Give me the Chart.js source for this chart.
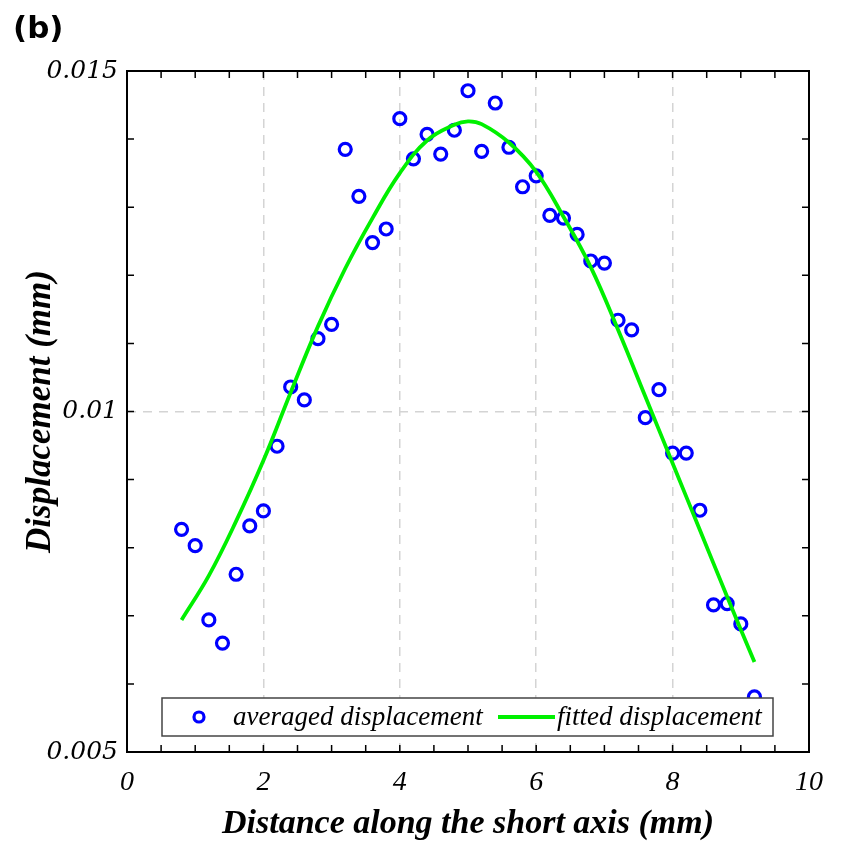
<!DOCTYPE html>
<html>
<head>
<meta charset="utf-8">
<script src="https://cdn.jsdelivr.net/npm/chart.js@4.4.1/dist/chart.umd.min.js"></script>
<style>
    html, body { margin: 0; padding: 0; background: #fff; }
</style>
</head>
<body>
<canvas id="displacementChart" width="842" height="841"></canvas>
<script>
// measured points (distance in mm, displacement in mm)
const distance = [0.8, 1.0, 1.2, 1.4, 1.6, 1.8, 2.0, 2.2, 2.4, 2.6, 2.8, 3.0, 3.2, 3.4, 3.6, 3.8,
    4.0, 4.2, 4.4, 4.6, 4.8, 5.0, 5.2, 5.4, 5.6, 5.8, 6.0, 6.2, 6.4, 6.6, 6.8, 7.0,
    7.2, 7.4, 7.6, 7.8, 8.0, 8.2, 8.4, 8.6, 8.8, 9.0, 9.2];
const averagedDisplacement = [0.00827, 0.00803, 0.00694, 0.00660, 0.00761, 0.00832, 0.00854, 0.00949,
    0.01036, 0.01017, 0.01107, 0.01128, 0.01385, 0.01316, 0.01248, 0.01268,
    0.01430, 0.01371, 0.01407, 0.01378, 0.01413, 0.01471, 0.01382, 0.01453,
    0.01388, 0.01330, 0.01346, 0.01288, 0.01284, 0.01260, 0.01221, 0.01218,
    0.01134, 0.01120, 0.00991, 0.01032, 0.00939, 0.00939, 0.00855, 0.00716,
    0.00718, 0.00688, 0.00581];

// fitted curve
const fitDistance = [0.8, 1.2, 1.6, 2.0, 2.4, 2.8, 3.2, 3.6, 4.0, 4.4, 4.8, 5.0, 5.2,
    5.6, 6.0, 6.4, 6.8, 7.2, 7.6, 8.0, 8.4, 8.8, 9.2];
const fittedDisplacement = [0.00694, 0.00759, 0.00839, 0.00928, 0.01028, 0.01125, 0.01210, 0.01284,
    0.01350, 0.01398, 0.01421, 0.01426, 0.01422, 0.01395, 0.01352, 0.01286,
    0.01212, 0.01120, 0.01022, 0.00924, 0.00826, 0.00728, 0.00632];

const xTickLabels = ["0", "2", "4", "6", "8", "10"];
const yTickLabels = ["0.005", "0.01", "0.015"];
const seriesNames = ["averaged displacement", "fitted displacement"];

const isLabelled = (labels, v) => labels.some(l => Math.abs(Number(l) - v) < 1e-9);
const labelFor = (labels, v) => labels.find(l => Math.abs(Number(l) - v) < 1e-9) || "";

const gridColor = (labels, min, max) => ctx => {
    if (!ctx.tick) return "rgba(0,0,0,0)";
    const v = ctx.tick.value;
    if (v <= min + 1e-9 || v >= max - 1e-9) return "rgba(0,0,0,0)";
    return isLabelled(labels, v) ? "#d4d4d4" : "rgba(0,0,0,0)";
};

// frame, inward ticks, boxed legend and panel letter
const decorations = {
    id: "decorations",
    afterDraw(chart) {
        const {ctx, chartArea: a, scales: {x, y}} = chart;
        ctx.save();

        ctx.strokeStyle = "#000";
        ctx.lineWidth = 1.5;
        ctx.beginPath();
        x.ticks.forEach(t => {
            const px = x.getPixelForValue(t.value);
            ctx.moveTo(px, a.bottom);
            ctx.lineTo(px, a.bottom - 7);
            ctx.moveTo(px, a.top);
            ctx.lineTo(px, a.top + 7);
        });
        y.ticks.forEach(t => {
            const py = y.getPixelForValue(t.value);
            ctx.moveTo(a.left, py);
            ctx.lineTo(a.left + 7, py);
            ctx.moveTo(a.right, py);
            ctx.lineTo(a.right - 7, py);
        });
        ctx.stroke();

        ctx.lineWidth = 2;
        ctx.strokeRect(a.left, a.top, a.right - a.left, a.bottom - a.top);

        // legend box
        const ds = chart.data.datasets;
        const bx = 162, by = 698, bw = 611, bh = 38;
        ctx.fillStyle = "#fff";
        ctx.fillRect(bx, by, bw, bh);
        ctx.strokeStyle = "#444";
        ctx.lineWidth = 1.5;
        ctx.strokeRect(bx, by, bw, bh);

        const midY = by + bh / 2;
        ctx.strokeStyle = ds[0].borderColor;
        ctx.lineWidth = ds[0].pointBorderWidth;
        ctx.beginPath();
        ctx.arc(199, midY, 5, 0, Math.PI * 2);
        ctx.stroke();

        ctx.strokeStyle = ds[1].borderColor;
        ctx.lineWidth = ds[1].borderWidth;
        ctx.beginPath();
        ctx.moveTo(498, midY);
        ctx.lineTo(555, midY);
        ctx.stroke();

        ctx.fillStyle = "#000";
        ctx.font = "italic 27px 'Liberation Serif'";
        ctx.textBaseline = "alphabetic";
        ctx.textAlign = "left";
        ctx.fillText(ds[0].label, 233, by + 27);
        ctx.fillText(ds[1].label, 557, by + 27);

        ctx.font = "bold 31px 'DejaVu Sans'";
        ctx.fillText("(b)", 13, 38);
        ctx.restore();
    }
};

const chartCanvas = document.getElementById("displacementChart").getContext("2d");

const data = {
    datasets: [
        {
            label: seriesNames[0],
            data: distance.map((d, i) => ({x: d, y: averagedDisplacement[i]})),
            showLine: false,
            borderColor: "#0000ff",
            backgroundColor: "rgba(0,0,0,0)",
            pointRadius: 6,
            pointBorderWidth: 3.2,
            order: 1,
        },
        {
            label: seriesNames[1],
            data: fitDistance.map((d, i) => ({x: d, y: fittedDisplacement[i]})),
            showLine: true,
            borderColor: "#00f000",
            backgroundColor: "#00f000",
            borderWidth: 3.8,
            pointRadius: 0,
            tension: 0.4,
            order: 0,
        },
    ],
};

const options = {
    responsive: false,
    animation: false,
    devicePixelRatio: 1,
    layout: {padding: {top: 71, right: 33, left: 0, bottom: 0}},
    plugins: {
        legend: {display: false},
        tooltip: {enabled: false},
    },
    scales: {
        x: {
            type: "linear",
            min: 0,
            max: 10,
            afterFit: s => { s.height = 89; },
            ticks: {
                stepSize: 0.5,
                autoSkip: false,
                maxTicksLimit: 100,
                maxRotation: 0,
                padding: 14,
                color: "#000",
                font: {family: "'Liberation Serif'", style: "italic", size: 28},
                callback: v => labelFor(xTickLabels, v),
            },
            grid: {drawTicks: false, lineWidth: 1.5, color: gridColor(xTickLabels, 0, 10)},
            border: {display: false, dash: [9, 7]},
            title: {
                display: true,
                text: "Distance along the short axis (mm)",
                color: "#000",
                font: {family: "'Liberation Serif'", style: "italic", weight: "bold", size: 34, lineHeight: 1.0},
                padding: {top: 0, bottom: 0},
            },
        },
        y: {
            type: "linear",
            min: 0.005,
            max: 0.015,
            afterFit: s => { s.width = 127; },
            ticks: {
                stepSize: 0.001,
                autoSkip: false,
                maxTicksLimit: 100,
                padding: 9,
                color: "#000",
                font: {family: "'DejaVu Serif'", style: "italic", size: 25},
                callback: v => labelFor(yTickLabels, v),
            },
            grid: {drawTicks: false, lineWidth: 1.5, color: gridColor(yTickLabels, 0.005, 0.015)},
            border: {display: false, dash: [9, 7]},
            title: {
                display: true,
                text: "Displacement (mm)",
                color: "#000",
                font: {family: "'Liberation Serif'", style: "italic", weight: "bold", size: 35},
                padding: {top: 20, bottom: 0},
            },
        },
    },
};

new Chart(chartCanvas, {
    type: "scatter",
    data: data,
    options: options,
    plugins: [decorations],
});
</script>
</body>
</html>
